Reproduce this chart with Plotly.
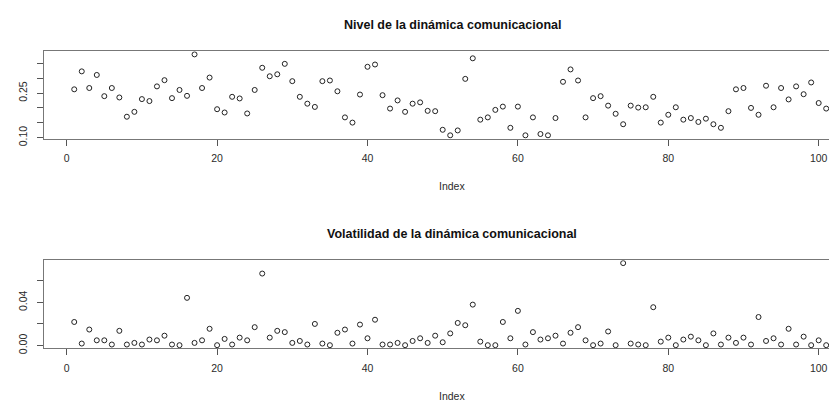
import plotly.graph_objects as go

index = list(range(1, 102))

nivel = [
    0.2628, 0.3233, 0.2672, 0.3112, 0.2397, 0.2672, 0.2353, 0.1704, 0.1869, 0.2298,
    0.2232, 0.2727, 0.2936, 0.2331, 0.2606, 0.2408, 0.3805, 0.2672, 0.3024, 0.1957,
    0.1847, 0.2375, 0.2320, 0.1814, 0.2606, 0.3354, 0.3068, 0.3134, 0.3486, 0.2903,
    0.2375, 0.2144, 0.2034, 0.2903, 0.2925, 0.2562, 0.1682, 0.1506, 0.2452, 0.3387,
    0.3464, 0.2430, 0.1979, 0.2254, 0.1869, 0.2144, 0.2188, 0.1902, 0.1891, 0.1264,
    0.1077, 0.1242, 0.2980, 0.3673, 0.1605, 0.1682, 0.1935, 0.2045, 0.1330, 0.2045,
    0.1077, 0.1682, 0.1121, 0.1077, 0.1660, 0.2881, 0.3299, 0.2925, 0.1682, 0.2331,
    0.2397, 0.2078, 0.1803, 0.1451, 0.2078, 0.2012, 0.2023, 0.2375, 0.1506, 0.1770,
    0.2023, 0.1605, 0.1660, 0.1528, 0.1638, 0.1451, 0.1330, 0.1891, 0.2628, 0.2672,
    0.2001, 0.1770, 0.2749, 0.2023, 0.2672, 0.2287, 0.2727, 0.2463, 0.2859, 0.2166,
    0.1979,
]

volatilidad = [
    0.0218, 0.0018, 0.0148, 0.0048, 0.0048, 0.0009, 0.0136, 0.0009, 0.0024, 0.0009,
    0.0055, 0.0048, 0.0091, 0.0009, 0.0003, 0.0442, 0.0024, 0.0048, 0.0155, 0.0003,
    0.0061, 0.0009, 0.0073, 0.0048, 0.0170, 0.0667, 0.0073, 0.0136, 0.0124, 0.0024,
    0.0042, 0.0009, 0.0200, 0.0018, 0.0003, 0.0118, 0.0148, 0.0018, 0.0194, 0.0067,
    0.0239, 0.0009, 0.0009, 0.0024, 0.0003, 0.0042, 0.0067, 0.0024, 0.0091, 0.0030,
    0.0112, 0.0209, 0.0188, 0.0379, 0.0036, 0.0003, 0.0003, 0.0218, 0.0067, 0.0321,
    0.0009, 0.0124, 0.0055, 0.0067, 0.0091, 0.0018, 0.0118, 0.0170, 0.0048, 0.0003,
    0.0018, 0.0130, 0.0003, 0.0764, 0.0018, 0.0009, 0.0003, 0.0355, 0.0036, 0.0073,
    0.0003, 0.0055, 0.0082, 0.0048, 0.0003, 0.0112, 0.0009, 0.0073, 0.0024, 0.0073,
    0.0009, 0.0264, 0.0042, 0.0067, 0.0009, 0.0155, 0.0009, 0.0082, 0.0003, 0.0048,
    0.0003,
]

x_ticks = [0, 20, 40, 60, 80, 100]
top_yticks = [0.10, 0.15, 0.20, 0.25, 0.30, 0.35]
top_yticktext = ["0.10", "", "", "0.25", "", ""]
bot_yticks = [0.00, 0.02, 0.04, 0.06]
bot_yticktext = ["0.00", "", "0.04", ""]

title_top = "Nivel de la dinámica comunicacional"
title_bot = "Volatilidad de la dinámica comunicacional"
xlabel = "Index"

W, H = 837, 403
ML = 36
FONT = "Liberation Sans, Arial, sans-serif"
TXT = "#2b2b2b"

def py(p):
    return 1 - p / H

marker = dict(symbol="circle-open", size=5, color="#222222", line=dict(width=1, color="#222222"))

fig = go.Figure()
fig.add_trace(go.Scatter(x=index, y=nivel, mode="markers", marker=marker,
                         xaxis="x", yaxis="y", showlegend=False, hoverinfo="x+y"))
fig.add_trace(go.Scatter(x=index, y=volatilidad, mode="markers", marker=marker,
                         xaxis="x2", yaxis="y2", showlegend=False, hoverinfo="x+y"))

xcommon = dict(range=[-3.02, 103.5], tickvals=x_ticks, ticks="outside", ticklen=6,
               tickcolor="#555555", tickwidth=1, showgrid=False, zeroline=False,
               showline=True, linecolor="#777777", linewidth=1, mirror=True,
               ticklabelstandoff=4,
               tickfont=dict(family=FONT, size=10.5, color=TXT), fixedrange=True)
ycommon = dict(ticks="outside", ticklen=6, tickcolor="#555555", tickwidth=1,
               showgrid=False, zeroline=False, showline=True, linecolor="#777777",
               linewidth=1, tickangle=-90, ticklabelstandoff=6,
               tickfont=dict(family=FONT, size=10.5, color=TXT), fixedrange=True)

fig.update_layout(
    width=W, height=H,
    margin=dict(l=ML, r=0, t=0, b=0),
    paper_bgcolor="white", plot_bgcolor="white",
    xaxis=dict(**xcommon, anchor="y"),
    yaxis=dict(**ycommon, anchor="x", range=[0.0965, 0.3915],
               domain=[py(133.3), py(44)], tickvals=top_yticks, ticktext=top_yticktext),
    xaxis2=dict(**xcommon, anchor="y2"),
    yaxis2=dict(**ycommon, anchor="x2", range=[-0.0027, 0.0791],
                domain=[py(347.3), py(257.3)], tickvals=bot_yticks, ticktext=bot_yticktext),
)

cx = (444 - ML) / (W - ML)
anns = [
    (title_top, 17, 12.5, True),
    (xlabel, 182, 10.5, False),
    (title_bot, 231, 12.5, True),
    (xlabel, 396, 10.5, False),
]
for text, ypix, size, bold in anns:
    fig.add_annotation(
        text=f"<b>{text}</b>" if bold else text,
        x=cx, y=py(ypix), xref="paper", yref="paper",
        xanchor="center", yanchor="middle", showarrow=False,
        font=dict(family=FONT, size=size, color="#111111" if bold else TXT),
    )

fig.write_html("out.html", config={"displayModeBar": False})
